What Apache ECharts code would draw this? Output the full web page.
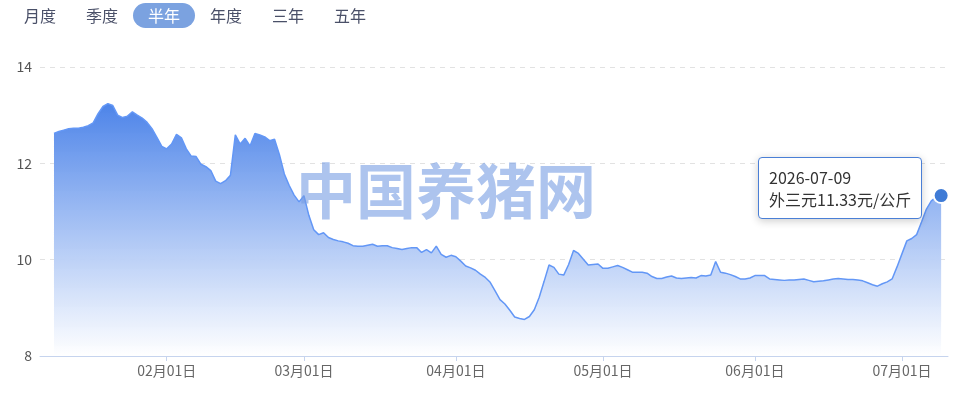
<!DOCTYPE html>
<html>
<head>
<meta charset="utf-8">
<title>外三元价格走势</title>
<script src="https://cdn.jsdelivr.net/npm/echarts@6/dist/echarts.min.js"></script>
<style>
    body{margin:0;background:#fff;font-family:"Noto Sans CJK SC",sans-serif;}
    .wrap{position:relative;width:960px;height:396px;}
    #main{width:960px;height:396px;}
    .dataView{position:absolute;left:9px;top:3px;z-index:10;font-size:16px;}
    .dataView span{display:inline-block;width:62px;height:25px;line-height:25px;text-align:center;color:#4a5068;border-radius:13px;}
    .dataView span.on{background:#7ba2e0;color:#fff;}
</style>
</head>
<body>
<div class="wrap">
    <div class="dataView"></div>
    <div id="main"></div>
</div>
<script>
// 周期按钮
var periodList = ['月度', '季度', '半年', '年度', '三年', '五年'];
var periodOn = 2;
// 外三元价格(元/公斤) 2026-01-09 起每日一个
var seriesName = '外三元';
var startDate = '2026-01-09';
var priceData = [
    12.62, 12.66, 12.69, 12.72, 12.73, 12.73, 12.75, 12.78, 12.84, 13.03,
    13.18, 13.24, 13.20, 13.00, 12.95, 12.98, 13.07, 13.00, 12.94, 12.85,
    12.72, 12.54, 12.35, 12.30, 12.40, 12.60, 12.53, 12.30, 12.15, 12.14,
    11.98, 11.93, 11.85, 11.63, 11.58, 11.64, 11.75, 12.59, 12.40, 12.52,
    12.36, 12.62, 12.59, 12.55, 12.47, 12.50, 12.18, 11.78, 11.54, 11.34,
    11.20, 11.33, 10.92, 10.62, 10.52, 10.56, 10.46, 10.42, 10.39, 10.37,
    10.34, 10.29, 10.28, 10.28, 10.30, 10.32, 10.28, 10.29, 10.29, 10.25,
    10.23, 10.21, 10.23, 10.25, 10.25, 10.15, 10.21, 10.14, 10.28, 10.11,
    10.05, 10.09, 10.06, 9.97, 9.87, 9.83, 9.78, 9.70, 9.63, 9.53,
    9.35, 9.17, 9.08, 8.95, 8.81, 8.78, 8.76, 8.82, 8.96, 9.22,
    9.55, 9.89, 9.84, 9.70, 9.68, 9.90, 10.19, 10.13, 10.01, 9.89,
    9.90, 9.91, 9.82, 9.82, 9.85, 9.88, 9.84, 9.79, 9.74, 9.74,
    9.74, 9.72, 9.65, 9.61, 9.61, 9.64, 9.66, 9.62, 9.61, 9.62,
    9.63, 9.62, 9.67, 9.66, 9.68, 9.96, 9.74, 9.72, 9.69, 9.65,
    9.60, 9.60, 9.62, 9.67, 9.67, 9.67, 9.60, 9.59, 9.58, 9.57,
    9.58, 9.58, 9.59, 9.60, 9.57, 9.54, 9.55, 9.56, 9.58, 9.60,
    9.61, 9.60, 9.59, 9.59, 9.58, 9.56, 9.52, 9.48, 9.45, 9.50,
    9.54, 9.60, 9.85, 10.12, 10.39, 10.44, 10.52, 10.78, 11.05, 11.22,
    11.30, 11.33
];
// y轴刻度
var yMin = 8, yMax = 14, yStep = 2;

var DAY = 24 * 3600 * 1000;

function pad(n){
    return n < 10 ? '0' + n : '' + n;
}

var btnHtml = '';
for(var i = 0; i < periodList.length; i++){
    btnHtml += '<span' + (i === periodOn ? ' class="on"' : '') + '>' + periodList[i] + '</span>';
}
document.querySelector('.dataView').innerHTML = btnHtml;

// 日期
var dateList = [];
var p = startDate.split('-');
var d = new Date(+p[0], +p[1] - 1, +p[2]);
for(var i = 0; i < priceData.length; i++){
    dateList.push(d.getFullYear() + '-' + pad(d.getMonth() + 1) + '-' + pad(d.getDate()));
    d.setDate(d.getDate() + 1);
}
var seriesData = [];
for(var i = 0; i < priceData.length; i++){
    seriesData.push([dateList[i], priceData[i]]);
}
var last = priceData.length - 1;
var t0 = new Date(+p[0], +p[1] - 1, +p[2]).getTime();

var myChart = echarts.init(document.getElementById('main'));
var option = {
    animation: false,
    textStyle: {fontFamily: '"Noto Sans CJK SC", sans-serif'},
    grid: {left: 40, right: 12, top: 67, bottom: 40},
    tooltip: {
        trigger: 'axis',
        alwaysShowContent: true,
        showDelay: 0,
        transitionDuration: 0,
        position: [758, 157],
        axisPointer: {type: 'none'},
        backgroundColor: '#fff',
        borderColor: '#4a7fd6',
        borderWidth: 1,
        padding: [8, 10],
        textStyle: {color: '#333', fontSize: 16, lineHeight: 22},
        extraCssText: 'border-radius:4px;box-shadow:0 2px 8px rgba(0,0,0,0.2);',
        formatter: function(params){
            var it = params[0];
            return it.value[0] + '<br/>' + seriesName + it.value[1] + '元/公斤';
        }
    },
    graphic: [{
        type: 'text',
        z: 100,
        x: 446,
        y: 191,
        silent: true,
        style: {
            text: '中国养猪网',
            font: 'bold 60px "Noto Sans CJK SC"',
            fill: 'rgba(118,156,226,0.6)',
            align: 'center',
            verticalAlign: 'middle'
        }
    }],
    xAxis: {
        type: 'time',
        min: t0 - 2.85 * DAY,
        max: t0 + 182.4 * DAY,
        splitNumber: 7,
        minInterval: 28 * DAY,
        axisLine: {lineStyle: {color: '#c6d4ee'}},
        axisTick: {length: 5, lineStyle: {color: '#c6d4ee'}},
        axisLabel: {
            color: '#666',
            fontSize: 14,
            margin: 8,
            showMinLabel: false,
            showMaxLabel: false,
            formatter: function(val){
                var dt = new Date(val);
                return pad(dt.getMonth() + 1) + '月' + pad(dt.getDate()) + '日';
            }
        },
        splitLine: {show: false}
    },
    yAxis: {
        type: 'value',
        min: yMin,
        max: yMax,
        interval: yStep,
        axisLine: {show: false},
        axisTick: {show: false},
        axisLabel: {color: '#555', fontSize: 14, margin: 8},
        splitLine: {lineStyle: {color: '#e2e2e2', type: [5, 5]}}
    },
    series: [{
        name: seriesName,
        type: 'line',
        data: seriesData,
        showSymbol: false,
        symbol: 'none',
        lineStyle: {color: '#5a8ae0', width: 1.5},
        areaStyle: {
            opacity: 1,
            color: new echarts.graphic.LinearGradient(0, 0, 0, 1, [
                {offset: 0, color: '#4678d4'},
                {offset: 1, color: 'rgba(255,255,255,0.95)'}
            ])
        },
        markPoint: {
            symbol: 'circle',
            symbolSize: 15,
            label: {show: false},
            itemStyle: {color: '#3f7bd6', borderColor: '#fff', borderWidth: 2},
            data: [{coord: [dateList[last], priceData[last]]}]
        }
    }]
};
myChart.setOption(option, true);
myChart.dispatchAction({type: 'showTip', seriesIndex: 0, dataIndex: last});
</script>
</body>
</html>
